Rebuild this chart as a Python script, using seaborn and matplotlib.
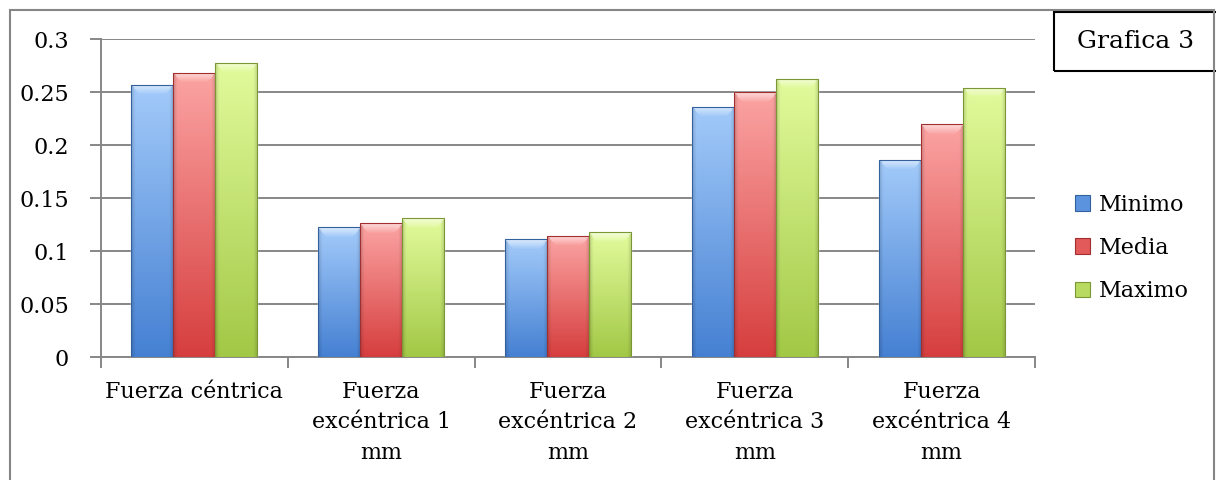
import numpy as np
import pandas as pd
import matplotlib
matplotlib.use("Agg")
import matplotlib.pyplot as plt
from matplotlib.patches import Rectangle
from matplotlib.colors import to_rgb
import seaborn as sns

# ---- data -------------------------------------------------------------
categories = [
    "Fuerza céntrica",
    "Fuerza\nexcéntrica 1\nmm",
    "Fuerza\nexcéntrica 2\nmm",
    "Fuerza\nexcéntrica 3\nmm",
    "Fuerza\nexcéntrica 4\nmm",
]
series = ["Minimo", "Media", "Maximo"]
minimo = [0.257, 0.1226, 0.1113, 0.2364, 0.186]
media = [0.268, 0.1264, 0.1144, 0.250, 0.2198]
maximo = [0.278, 0.1311, 0.1179, 0.263, 0.2538]
y_ticks = [0, 0.05, 0.1, 0.15, 0.2, 0.25, 0.3]
y_tick_labels = ["0", "0.05", "0.1", "0.15", "0.2", "0.25", "0.3"]
title_text = "Grafica 3"

# base / light / dark tones per series
base_colors = ["#5B93DE", "#E25A5A", "#B8DA60"]
light_colors = ["#A3CBFA", "#FBA4A3", "#E2FB9C"]
dark_colors = ["#4580D2", "#D63E3E", "#A2C846"]

df = pd.DataFrame({
    "categoria": np.repeat(categories, len(series)),
    "serie": series * len(categories),
    "valor": np.ravel(np.column_stack([minimo, media, maximo])),
})

# ---- figure -----------------------------------------------------------
sns.set_theme(style="white")
plt.rcParams["font.family"] = ["DejaVu Serif"]
plt.rcParams["text.color"] = "black"

W, H = 1216, 480
fig = plt.figure(figsize=(W / 100, H / 100), dpi=100)
fig.patch.set_facecolor("white")
ax = fig.add_axes([101 / W, 1 - 357.3 / H, (1035 - 101) / W, (357.3 - 39.3) / H])

sns.barplot(
    data=df, x="categoria", y="valor", hue="serie", order=categories,
    hue_order=series, palette=base_colors, width=0.675, gap=0,
    saturation=1, ax=ax, legend=True, zorder=3,
)

ax.set_xlim(-0.5, len(categories) - 0.5)
ax.set_ylim(0, 0.3)
ax.set_xlabel("")
ax.set_ylabel("")

grid_col = "#878787"
ax.set_yticks(y_ticks)
ax.set_yticklabels(y_tick_labels, fontsize=16)
ax.yaxis.grid(True, color=grid_col, linewidth=1.4)
ax.set_axisbelow(True)
ax.tick_params(axis="y", length=8, width=1.4, color=grid_col, pad=15, direction="out",
               left=True, labelcolor="black")
ax.set_xticks(range(len(categories)))
ax.set_xticklabels(categories, fontsize=16, linespacing=1.5)
ax.set_xticks(np.arange(-0.5, len(categories)), minor=True)
ax.tick_params(axis="x", which="major", length=0, pad=17, labelcolor="black")
ax.tick_params(axis="x", which="minor", length=8, width=1.4, color=grid_col, bottom=True)
for s in ["top", "right"]:
    ax.spines[s].set_visible(False)
for s in ["left", "bottom"]:
    ax.spines[s].set_color(grid_col)
    ax.spines[s].set_linewidth(1.4)

# ---- bevel-style gradient fill on each bar -----------------------------
fig.canvas.draw()
px_per_unit = ax.transData.transform((0, 1))[1] - ax.transData.transform((0, 0))[1]
for cont, lc, dc in zip(ax.containers, light_colors, dark_colors):
    lc, dc = np.array(to_rgb(lc)), np.array(to_rgb(dc))
    for bar in cont:
        x0, y0 = bar.get_x(), bar.get_y()
        bw, bh = bar.get_width(), bar.get_height()
        bar_px = max(bh * px_per_unit, 1)
        nrows = int(round(bar_px))
        ncols = 42
        t = np.linspace(0, 1, nrows)[:, None]
        img = lc[None, None, :] * (1 - t[..., None]) + dc[None, None, :] * t[..., None]
        img = np.repeat(img, ncols, axis=1)
        # darker sides
        u = np.linspace(0, 1, ncols)
        side = np.clip(np.minimum(u, 1 - u) / 0.1, 0, 1)
        shade = 0.86 + 0.14 * side
        img = img * shade[None, :, None]
        # light trapezoid bevel at the top
        top_rows = min(10, nrows // 3)
        for r in range(top_rows):
            f = 1 - r / top_rows
            inset = int(round(ncols * 0.2 * r / top_rows))
            sl = slice(inset, ncols - inset)
            img[r, sl] = img[r, sl] * (1 - 0.6 * f) + 0.6 * f
        img = np.clip(img, 0, 1)
        im = ax.imshow(img, extent=(x0, x0 + bw, y0, y0 + bh), origin="upper",
                       aspect="auto", zorder=3.5, interpolation="bilinear")
        im.set_clip_path(bar)
        ax.add_patch(Rectangle((x0, y0), bw, bh, fill=False,
                               edgecolor=tuple(dc * 0.75), linewidth=0.8, zorder=3.6))
ax.set_xlim(-0.5, len(categories) - 0.5)
ax.set_ylim(0, 0.3)

# ---- legend -----------------------------------------------------------
handles = [Rectangle((0, 0), 1, 1, facecolor=c, edgecolor=tuple(np.array(to_rgb(d)) * 0.75), linewidth=0.8)
           for c, d in zip(base_colors, dark_colors)]
leg = ax.legend(handles, series, loc="center left",
                bbox_to_anchor=(1066 / W, 1 - 248 / H), bbox_transform=fig.transFigure,
                frameon=False, fontsize=16, handlelength=0.7, handleheight=0.7,
                handletextpad=0.4, labelspacing=0.95, borderaxespad=0)
for txt in leg.get_texts():
    txt.set_color("black")

# ---- title box --------------------------------------------------------
fig.patches.append(Rectangle((1054 / W, 1 - 71 / H), 200 / W, 59 / H, transform=fig.transFigure,
                             fill=False, edgecolor="black", linewidth=1.5, figure=fig))
fig.text(1136 / W, 1 - 42 / H, title_text, fontsize=18, ha="center", va="center")

# outer chart frame
fig.patches.append(Rectangle((9.5 / W, 1 - 490 / H), 1204 / W, 480 / H, transform=fig.transFigure,
                             fill=False, edgecolor="#868686", linewidth=1.5, figure=fig))

fig.savefig("out.png", dpi=100, facecolor="white")
